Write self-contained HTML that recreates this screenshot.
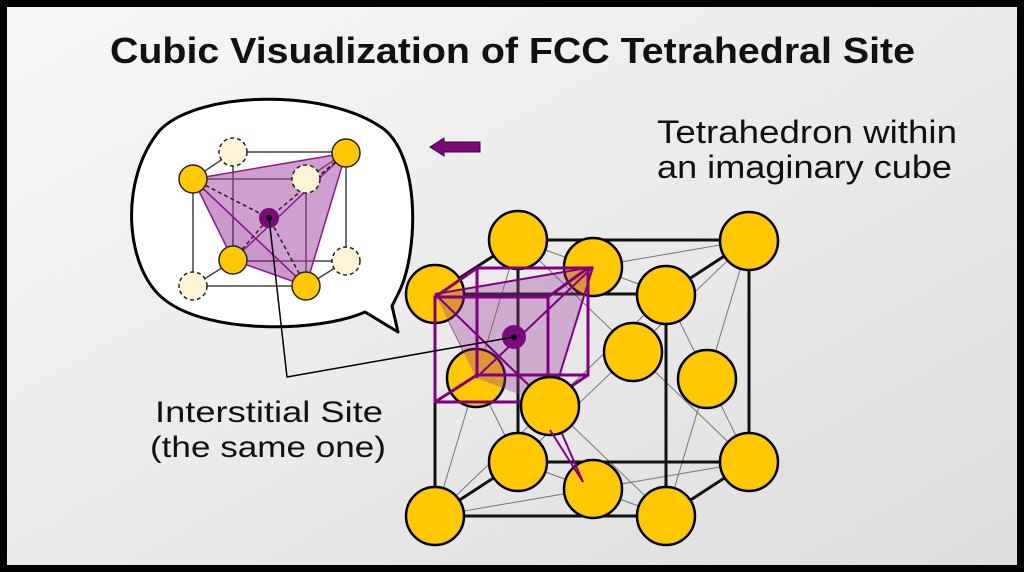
<!DOCTYPE html>
<html><head><meta charset="utf-8"><style>
html,body{margin:0;padding:0;background:#000;}
svg{display:block;}
</style></head><body>
<svg width="1024" height="572" viewBox="0 0 1024 572" xmlns="http://www.w3.org/2000/svg">
<defs>
<linearGradient id="bg" x1="0" y1="0" x2="1" y2="1">
<stop offset="0" stop-color="#f7f7f7"/><stop offset="0.5" stop-color="#ebebeb"/><stop offset="1" stop-color="#dcdcdc"/>
</linearGradient>
</defs>
<rect x="0" y="0" width="1024" height="572" fill="#000"/>
<rect x="7" y="7" width="1010" height="558" fill="url(#bg)"/>

<text x="110" y="63" font-family="Liberation Sans, sans-serif" font-weight="bold" font-size="36" textLength="805" lengthAdjust="spacingAndGlyphs" fill="#111">Cubic Visualization of FCC Tetrahedral Site</text>
<text x="657" y="143" font-family="Liberation Sans, sans-serif" font-size="32" textLength="300" lengthAdjust="spacingAndGlyphs" fill="#111">Tetrahedron within</text>
<text x="657" y="178" font-family="Liberation Sans, sans-serif" font-size="32" textLength="295" lengthAdjust="spacingAndGlyphs" fill="#111">an imaginary cube</text>
<text x="155" y="422" font-family="Liberation Sans, sans-serif" font-size="30" textLength="228" lengthAdjust="spacingAndGlyphs" fill="#111">Interstitial Site</text>
<text x="150" y="457" font-family="Liberation Sans, sans-serif" font-size="30" textLength="236" lengthAdjust="spacingAndGlyphs" fill="#111">(the same one)</text>

<!-- arrow -->
<polygon points="430,147 444,138 444,142 480,142 480,152 444,152 444,156" fill="#7a0a7a" stroke="#3a003a" stroke-width="1"/>

<!-- bubble -->
<path d="M365,312 C320,332 210,335 165,300 C125,270 118,180 160,130 C200,90 330,88 385,130 C420,160 418,250 400,290 L392,306 L398,332 Z" fill="#fff" stroke="#000" stroke-width="3" stroke-linejoin="round"/>

<!-- inset cube -->
<g stroke="#444" stroke-width="1.5" fill="none">
<rect x="193" y="179" width="113" height="107"/>
<rect x="233" y="152" width="113" height="109"/>
<line x1="193" y1="179" x2="233" y2="152"/><line x1="306" y1="179" x2="346" y2="152"/>
<line x1="193" y1="286" x2="233" y2="261"/><line x1="306" y1="286" x2="346" y2="261"/>
</g>
<polygon points="193,179 346,153 306,286" fill="#a040a0" fill-opacity="0.5" stroke="#8a1a8a" stroke-width="1.5"/>
<polygon points="193,179 233,260 306,286" fill="#8a1a8a" fill-opacity="0.45" stroke="#8a1a8a" stroke-width="1.5"/>
<line x1="233" y1="260" x2="346" y2="153" stroke="#8a1a8a" stroke-width="1.5"/>
<g stroke="#222" stroke-width="1.5" stroke-dasharray="4,3">
<line x1="193" y1="179" x2="269" y2="218"/><line x1="346" y1="153" x2="269" y2="218"/>
<line x1="233" y1="260" x2="269" y2="218"/><line x1="306" y1="286" x2="269" y2="218"/>
</g>
<g stroke="#222" stroke-width="1.5">
<circle cx="233" cy="152" r="14" fill="#fff5d6" stroke-dasharray="4,3"/>
<circle cx="193" cy="286" r="14" fill="#fff5d6" stroke-dasharray="4,3"/>
<circle cx="346" cy="261" r="14" fill="#fff5d6" stroke-dasharray="4,3"/>
<circle cx="306" cy="179" r="14" fill="#fff5d6" stroke-dasharray="4,3"/>
<circle cx="193" cy="179" r="14" fill="#ffc800"/>
<circle cx="346" cy="153" r="14" fill="#ffc800"/>
<circle cx="233" cy="260" r="14" fill="#ffc800"/>
<circle cx="306" cy="286" r="14" fill="#ffc800"/>
</g>
<circle cx="269" cy="218" r="10" fill="#7a0a7a"/>

<!-- main cube lines -->
<g stroke="#777" stroke-width="1" fill="none">
<line x1="435" y1="294" x2="666" y2="516"/><line x1="666" y1="294" x2="435" y2="516"/>
<line x1="518" y1="240" x2="749" y2="462"/><line x1="749" y1="240" x2="518" y2="462"/>
<line x1="435" y1="294" x2="749" y2="240"/><line x1="518" y1="240" x2="666" y2="294"/>
<line x1="435" y1="516" x2="749" y2="462"/><line x1="518" y1="462" x2="666" y2="516"/>
<line x1="435" y1="294" x2="518" y2="462"/><line x1="518" y1="240" x2="435" y2="516"/>
<line x1="666" y1="294" x2="749" y2="462"/><line x1="749" y1="240" x2="666" y2="516"/>
</g>
<g stroke="#111" stroke-width="3" fill="none">
<rect x="435" y="294" width="231" height="222"/>
<rect x="518" y="240" width="231" height="222"/>
<line x1="435" y1="294" x2="518" y2="240"/><line x1="666" y1="294" x2="749" y2="240"/>
<line x1="435" y1="516" x2="518" y2="462"/><line x1="666" y1="516" x2="749" y2="462"/>
</g>
<g stroke="#000" stroke-width="2.5" fill="#ffc800">
<circle cx="518" cy="240" r="29"/><circle cx="749" cy="241" r="29"/>
<circle cx="518" cy="462" r="29"/><circle cx="749" cy="462" r="29"/>
<circle cx="633" cy="352" r="29"/><circle cx="476" cy="378" r="29"/>
<circle cx="707" cy="379" r="29"/>
<circle cx="593" cy="267" r="29"/>
<circle cx="435" cy="294" r="29"/><circle cx="666" cy="295" r="29"/>
<circle cx="593" cy="489" r="29"/>
<circle cx="435" cy="516" r="29"/><circle cx="666" cy="516" r="29"/>
</g>
<!-- tetrahedron -->
<polygon points="435,294 593,267 550,406 476,378" fill="#9a3a9a" fill-opacity="0.35"/>
<g stroke="#800080" stroke-width="3" fill="none">
<rect x="477" y="268" width="111" height="107"/>
<rect x="435" y="297" width="113" height="105"/>
<line x1="435" y1="297" x2="477" y2="268"/><line x1="548" y1="297" x2="588" y2="268"/>
<line x1="435" y1="402" x2="477" y2="375"/><line x1="548" y1="402" x2="588" y2="375"/>
</g>
<g stroke="#800080" stroke-width="2" fill="none">
<line x1="435" y1="294" x2="593" y2="267"/><line x1="593" y1="267" x2="476" y2="378"/>
<line x1="593" y1="267" x2="550" y2="406"/><line x1="435" y1="294" x2="550" y2="406"/>
<line x1="550" y1="406" x2="583" y2="482"/>
</g>
<circle cx="550" cy="406" r="29" fill="#ffc800" stroke="#000" stroke-width="2.5"/>
<line x1="550" y1="430" x2="583" y2="482" stroke="#800080" stroke-width="2"/>
<circle cx="514" cy="337" r="12" fill="#7a0a7a"/>
<!-- leader line -->
<polyline points="514,337 287,377 269,218" fill="none" stroke="#000" stroke-width="1.5"/>
<circle cx="514" cy="337" r="3" fill="#000"/>
<circle cx="269" cy="218" r="3" fill="#000"/>
</svg>
</body></html>
